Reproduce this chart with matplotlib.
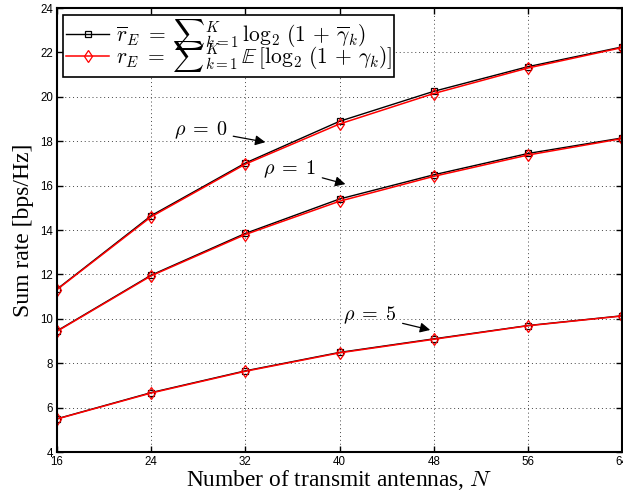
import numpy as np
import matplotlib
matplotlib.use("Agg")
import matplotlib.pyplot as plt

plt.rcParams['mathtext.fontset'] = 'cm'

N = [16, 24, 32, 40, 48, 56, 64]

# upper bound (black squares) and exact (red diamonds), per rho
bound_rho0 = [11.34, 14.65, 17.02, 18.90, 20.25, 21.36, 22.25]
exact_rho0 = [11.32, 14.60, 16.97, 18.78, 20.15, 21.30, 22.22]
bound_rho1 = [9.46, 11.97, 13.85, 15.40, 16.49, 17.45, 18.15]
exact_rho1 = [9.44, 11.94, 13.80, 15.30, 16.42, 17.38, 18.12]
bound_rho5 = [5.50, 6.68, 7.66, 8.49, 9.10, 9.70, 10.14]
exact_rho5 = [5.49, 6.66, 7.64, 8.47, 9.08, 9.69, 10.13]

fig = plt.figure(figsize=(6.23, 4.93), dpi=100)
ax = fig.add_axes([0.0915, 0.083, 0.907, 0.9006])

# braces round \sum keep the limits at the side, like inline TeX
lab_b = r'$\overline{r}_E\;=\;{\sum}_{k=1}^{K}\, \log_2\,(1\,+\,\overline{\gamma}_k)$'
lab_e = r'$r_E\;=\;{\sum}_{k=1}^{K}\, \mathbb{E}\,[\log_2\,(1\,+\,\gamma_k)]$'

first = True
for b, e in [(bound_rho0, exact_rho0), (bound_rho1, exact_rho1), (bound_rho5, exact_rho5)]:
    ax.plot(N, b, '-s', color='k', lw=1, ms=5, mfc='none', mew=0.9,
            label=lab_b if first else None)
    ax.plot(N, e, '-d', color='r', lw=1.1, ms=6, mfc='none', mew=0.9,
            label=lab_e if first else None)
    first = False

ax.set_xlim(16, 64)
ax.set_ylim(4, 24)
ax.set_xticks(N)
ax.set_yticks(np.arange(4, 25, 2))
ax.tick_params(direction='in', top=True, right=True, labelsize=8.3, length=4, width=1, pad=3)
for lbl in ax.get_xticklabels() + ax.get_yticklabels():
    lbl.set_family(['Liberation Sans'])
for s in ax.spines.values():
    s.set_linewidth(1.5)
ax.grid(True, linestyle=(0, (1, 3)), color='#444444', lw=0.7)

ax.set_xlabel(r'Number of transmit antennas, $N$', family='Liberation Serif', fontsize=16.8, labelpad=0)
ax.set_ylabel('Sum rate [bps/Hz]', family='Liberation Serif', fontsize=17, labelpad=4)

arrow = dict(arrowstyle='-|>', color='k', lw=0.9, mutation_scale=15, shrinkA=2, shrinkB=0)
ax.annotate(r'$\rho\;=\;0$', xy=(33.7, 17.96), xytext=(28.2, 18.5), fontsize=14.5,
            ha='center', va='center', arrowprops=arrow)
ax.annotate(r'$\rho\;=\;1$', xy=(40.5, 16.07), xytext=(35.8, 16.75), fontsize=14.5,
            ha='center', va='center', arrowprops=arrow)
ax.annotate(r'$\rho\;=\;5$', xy=(47.7, 9.5), xytext=(42.6, 10.15), fontsize=14.5,
            ha='center', va='center', arrowprops=arrow)

leg = ax.legend(loc='upper left', fontsize=15.5, frameon=True, fancybox=False,
                edgecolor='k', borderpad=0.12, labelspacing=-0.6, handlelength=2,
                handletextpad=0.3, borderaxespad=0.3, framealpha=1)
leg.get_frame().set_linewidth(1.2)

fig.savefig('out.png', dpi=100)
